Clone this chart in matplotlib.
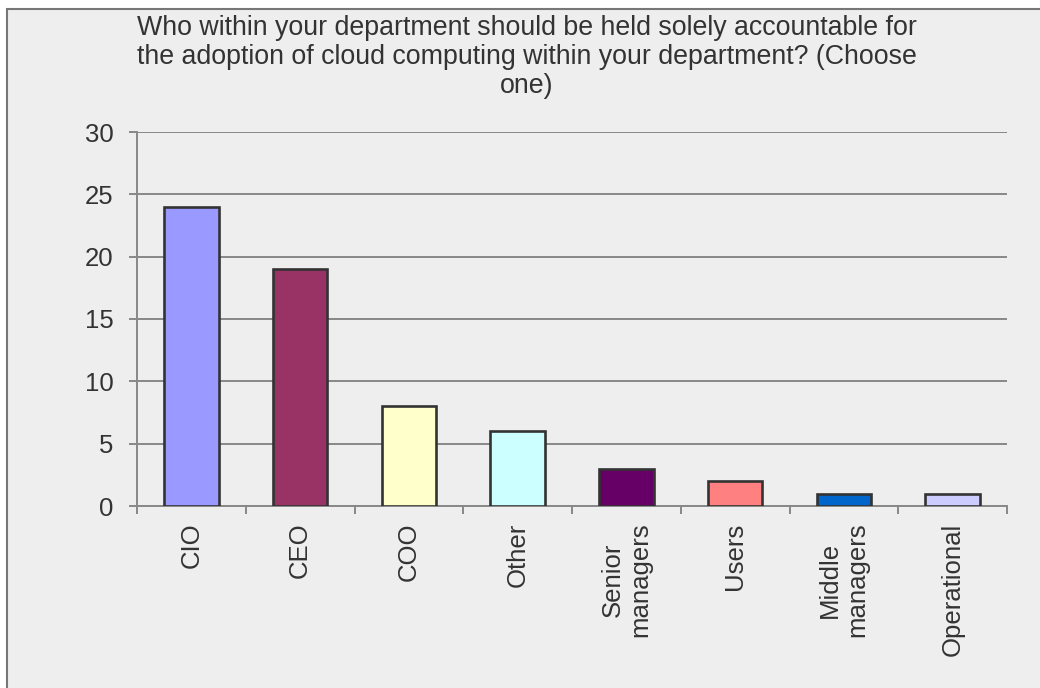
import matplotlib
matplotlib.use("Agg")
import matplotlib.pyplot as plt
import numpy as np
from matplotlib.patches import Rectangle

# Survey responses
categories = ["CIO", "CEO", "COO", "Other", "Senior\nmanagers", "Users",
              "Middle\nmanagers", "Operational"]
responses = [24, 19, 8, 6, 3, 2, 1, 1]
bar_colors = ["#9999FF", "#993366", "#FFFFCC", "#CCFFFF", "#660066",
              "#FF8080", "#0066CC", "#CCCCFF"]
y_ticks = [0, 5, 10, 15, 20, 25, 30]
title = ("Who within your department should be held solely accountable for\n"
         "the adoption of cloud computing within your department? (Choose\n"
         "one)")

plt.rcParams["font.family"] = ["Liberation Sans", "DejaVu Sans"]
text_color = "#333333"
grid_color = "#888888"

W, H = 1040, 688
fig = plt.figure(figsize=(W / 100, H / 100), dpi=100, facecolor="white")

# Chart area panel with border
fig.patches.append(Rectangle((7 / W, -0.05), 1.1, 1 - 9 / H + 0.05,
                             transform=fig.transFigure, facecolor="#EEEEEE",
                             edgecolor="#777777", linewidth=1.5, zorder=-10))

ax = fig.add_axes([137 / W, 182 / H, (1007 - 137) / W, (506 - 132) / H])
ax.set_facecolor("none")

x = np.arange(len(categories))
ax.bar(x, responses, width=0.5, color=bar_colors, edgecolor="#333333",
       linewidth=1.9, zorder=3)

ax.set_xlim(-0.5, len(categories) - 0.5)
ax.set_ylim(0, 30)
ax.set_yticks(y_ticks)
ax.yaxis.grid(True, color=grid_color, linewidth=1.4, zorder=1)
ax.set_axisbelow(True)

for side in ["top", "right"]:
    ax.spines[side].set_visible(False)
for side in ["left", "bottom"]:
    ax.spines[side].set_color(grid_color)
    ax.spines[side].set_linewidth(1.4)

ax.tick_params(axis="y", direction="out", length=6, width=1.4,
               color=grid_color, labelsize=18.5, labelcolor=text_color, pad=11)

# Category labels at bar centres, tick marks between categories
ax.set_xticks(x)
ax.set_xticklabels(categories, rotation=90, ha="center", va="top",
                   multialignment="center")
ax.tick_params(axis="x", which="major", length=0, labelsize=18.5,
               labelcolor=text_color, pad=12)
ax.set_xticks(np.arange(len(categories) + 1) - 0.5, minor=True)
ax.tick_params(axis="x", which="minor", direction="out", length=5.5,
               width=1.4, color=grid_color)

fig.text(527 / W, 1 - 15 / H, title, ha="center", va="top", fontsize=19.3,
         color=text_color, linespacing=1.15)

fig.savefig("out.png", dpi=100, facecolor=fig.get_facecolor())
